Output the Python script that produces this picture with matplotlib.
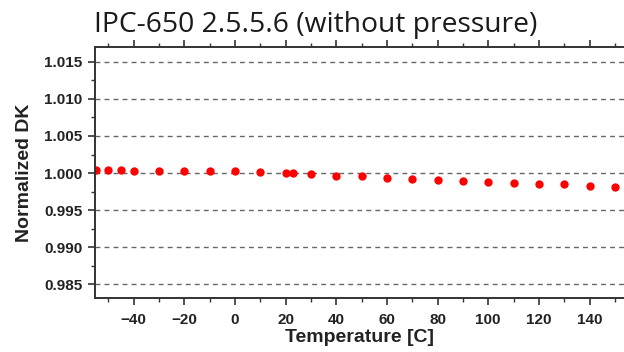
import matplotlib
matplotlib.use("Agg")
import matplotlib.pyplot as plt
from matplotlib.ticker import MultipleLocator

temperature = [-55, -50, -45, -40, -30, -20, -10, 0, 10, 20, 23, 30, 40, 50,
               60, 70, 80, 90, 100, 110, 120, 130, 140, 150]
normalized_dk = [1.00039, 1.00039, 1.00039, 1.00034, 1.00030, 1.00030, 1.00026,
                 1.00026, 1.00012, 1.00003, 1.00003, 0.99993, 0.99966, 0.99953,
                 0.99933, 0.99918, 0.99902, 0.99895, 0.99877, 0.99868, 0.99854,
                 0.99845, 0.99831, 0.99816]
x_ticks = [-40, -20, 0, 20, 40, 60, 80, 100, 120, 140]
y_ticks = [0.985, 0.990, 0.995, 1.000, 1.005, 1.010, 1.015]

title = "IPC-650 2.5.5.6 (without pressure)"
x_label = "Temperature [C]"
y_label = "Normalized DK"

W, H = 624, 352
fig = plt.figure(figsize=(W / 100, H / 100), dpi=100)
left, right, top, bottom = 95, 624, 47, 298
ax = fig.add_axes([left / W, (H - bottom) / H, (right - left) / W, (bottom - top) / H])

ax.plot(temperature, normalized_dk, linestyle="none", marker="o",
        markersize=6, color="#ff0000", markeredgewidth=0)

ax.set_xlim(-55.2, 153.6)
ax.set_ylim(0.98312, 1.01702)
ax.set_xticks(x_ticks)
ax.set_yticks(y_ticks)
ax.set_yticklabels([f"{v:.3f}" for v in y_ticks])
ax.xaxis.set_minor_locator(MultipleLocator(10))
ax.yaxis.set_minor_locator(MultipleLocator(0.0025))

for s in ("left", "bottom", "top"):
    ax.spines[s].set_linewidth(1.4)
    ax.spines[s].set_color("#333333")
ax.spines["right"].set_visible(False)

ax.tick_params(which="major", direction="out", length=5, width=1.2, color="#333333",
               labelsize=11)
ax.tick_params(which="minor", direction="out", length=3, width=1.0, color="#333333")
ax.tick_params(axis="y", which="major", pad=4)
ax.tick_params(axis="x", which="both", top=True)
ax.tick_params(axis="x", which="major", labeltop=False, pad=5.5)
for lab in ax.get_xticklabels() + ax.get_yticklabels():
    lab.set_fontfamily("Liberation Sans")
    lab.set_fontweight("bold")
    lab.set_color("#222222")

ax.yaxis.grid(True, which="major", linestyle=(0, (3.5, 3)), color="#666666", linewidth=1.0)
ax.set_axisbelow(True)

ax.set_xlabel(x_label, fontfamily="Liberation Sans", fontweight="bold", fontsize=14,
              color="#222222", labelpad=2)
ax.set_ylabel(y_label, fontfamily="Liberation Sans", fontweight="bold", fontsize=14,
              color="#222222", labelpad=8)

fig.text(94 / W, 1 - 32 / H, title, fontfamily="Open Sans", fontsize=20.3,
         color="#1a1a1a", ha="left", va="baseline")

fig.savefig("out.png", dpi=100)
